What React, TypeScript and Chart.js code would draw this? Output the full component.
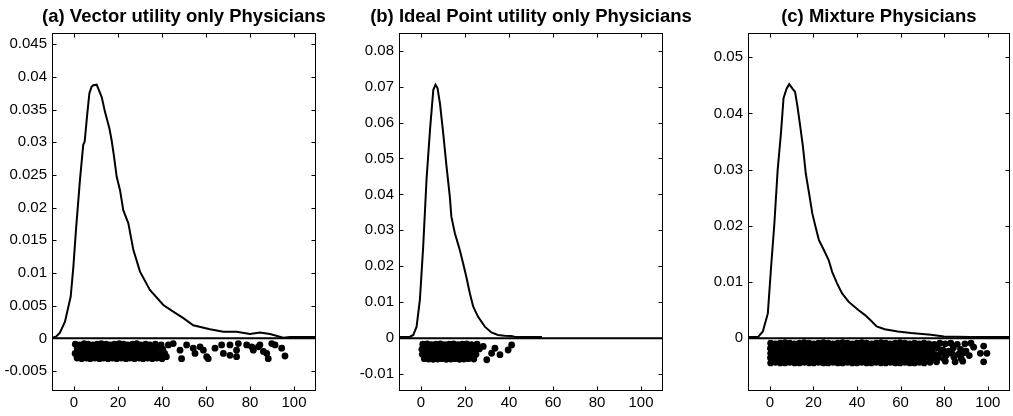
import React, { useEffect, useRef } from "react";
import { Chart, registerables } from "chart.js";

Chart.register(...registerables);

// ---------------- data ----------------
const xTicks = [0, 20, 40, 60, 80, 100];
const xMin = -10;
const xMax = 110;
const zeroLineX = [-10, 110];
const zeroLineY = [0, 0];

// (a) Vector utility only
const titleA = "(a) Vector utility only Physicians";
const yTicksA = [-0.005, 0, 0.005, 0.01, 0.015, 0.02, 0.025, 0.03, 0.035, 0.04, 0.045];
const yLabelsA = ["-0.005", "0", "0.005", "0.01", "0.015", "0.02", "0.025", "0.03", "0.035", "0.04", "0.045"];
const yRangeA = [-0.00805, 0.0467];
const curveAX = [-10, -8, -6.4, -4.1, -1.5, -0.3, 0.9, 2.7, 4.2, 4.85, 6.05, 7.0, 8.0, 8.8, 10.3, 12.6, 14.1, 16.1, 17.1, 18.2, 19.4, 20.9, 22.4, 24.7, 27.0, 30.0, 34.5, 40.6, 45.1, 49.7, 54.2, 61.8, 67.9, 73.9, 80.0, 84.5, 89.1, 95.1, 98.2, 104, 110];
const curveAY = [0.0001, 0.0003, 0.00086, 0.00254, 0.0064, 0.0109, 0.0166, 0.0242, 0.0296, 0.0301, 0.0344, 0.0375, 0.0385, 0.0387, 0.0388, 0.0369, 0.0346, 0.0321, 0.0303, 0.0278, 0.0247, 0.0227, 0.0196, 0.0176, 0.0135, 0.0102, 0.0074, 0.0051, 0.0041, 0.0031, 0.0020, 0.0014, 0.0010, 0.0010, 0.00066, 0.0009, 0.00066, 0.0001, 0.0002, 0.0002, 0.0002];
const rugA: [number, number][] = [
  [0.6, -0.0009], [2.5, -0.001], [4.6, -0.0008], [6.4, -0.0009], [8.5, -0.001], [10.5, -0.0009], [12.4, -0.0008], [14.6, -0.0009], [16.5, -0.001], [18.4, -0.0009], [20.6, -0.0008], [22.5, -0.0009], [24.4, -0.001], [26.6, -0.0009], [28.5, -0.0008], [30.4, -0.001], [32.6, -0.0009], [34.5, -0.001], [37.0, -0.0009], [39.6, -0.001],
  [1.5, -0.0016], [3.6, -0.0017], [5.4, -0.0015], [7.5, -0.0016], [9.6, -0.0017], [11.4, -0.0016], [13.5, -0.0015], [15.6, -0.0016], [17.4, -0.0017], [19.5, -0.0016], [21.6, -0.0015], [23.4, -0.0016], [25.5, -0.0017], [27.6, -0.0016], [29.4, -0.0015], [31.5, -0.0016], [33.6, -0.0017], [35.4, -0.0016], [37.8, -0.0015], [40.4, -0.0017],
  [0.5, -0.0023], [2.6, -0.0024], [4.5, -0.0022], [6.6, -0.0023], [8.4, -0.0024], [10.5, -0.0023], [12.6, -0.0022], [14.4, -0.0023], [16.5, -0.0024], [18.6, -0.0023], [20.4, -0.0022], [22.5, -0.0023], [24.6, -0.0024], [26.4, -0.0023], [28.5, -0.0022], [30.6, -0.0023], [32.4, -0.0024], [34.5, -0.0023], [36.6, -0.0022], [38.7, -0.0024], [41.2, -0.0023],
  [1.4, -0.003], [3.5, -0.0031], [5.6, -0.003], [7.4, -0.0031], [9.5, -0.003], [11.6, -0.0031], [13.4, -0.003], [15.5, -0.0031], [17.6, -0.003], [19.4, -0.0031], [21.5, -0.003], [23.6, -0.0031], [25.4, -0.003], [27.5, -0.0031], [29.6, -0.003], [31.4, -0.0031], [33.5, -0.003], [35.6, -0.0031], [37.6, -0.003], [40.0, -0.0031], [42.0, -0.0028],
  [42.9, -0.001], [45.1, -0.0008], [48.2, -0.0018], [48.9, -0.0031], [51.2, -0.001], [54.2, -0.0015], [55.0, -0.0023], [57.3, -0.0013], [58.8, -0.0018], [60.3, -0.0028], [61.0, -0.0031], [64.1, -0.0015], [67.1, -0.001], [67.9, -0.0023], [70.9, -0.001], [70.9, -0.0026], [73.9, -0.0018], [74.7, -0.0008], [73.9, -0.0028], [78.5, -0.001], [80.8, -0.0013], [81.5, -0.0018], [83.8, -0.0013], [84.5, -0.001], [86.1, -0.002], [87.6, -0.0023], [88.3, -0.0031], [89.9, -0.0008], [91.4, -0.001], [94.4, -0.0015], [95.9, -0.0027],
];

// (b) Ideal Point utility only
const titleB = "(b) Ideal Point utility only Physicians";
const yTicksB = [-0.01, 0, 0.01, 0.02, 0.03, 0.04, 0.05, 0.06, 0.07, 0.08];
const yLabelsB = ["-0.01", "0", "0.01", "0.02", "0.03", "0.04", "0.05", "0.06", "0.07", "0.08"];
const yRangeB = [-0.0147, 0.0849];
const curveBX = [-10, -5.0, -3.5, -2.0, -0.5, 1.0, 2.5, 4.1, 5.6, 6.6, 7.5, 8.6, 10.1, 11.6, 13.1, 13.8, 15.4, 17.6, 19.1, 20.6, 22.2, 23.7, 25.9, 29.0, 32.0, 35.0, 38.0, 41.0, 42.5, 44, 50, 55];
const curveBY = [0.0003, 0.0004, 0.0009, 0.0032, 0.0107, 0.0255, 0.044, 0.058, 0.0691, 0.0705, 0.0696, 0.0654, 0.057, 0.0478, 0.0394, 0.0338, 0.0292, 0.0246, 0.0209, 0.0171, 0.0125, 0.0088, 0.006, 0.0032, 0.0016, 0.0009, 0.0007, 0.0006, 0.0004, 0.0003, 0.0003, 0.0003];
const rugB: [number, number][] = [
  [0.8, -0.0017], [2.8, -0.0016], [4.8, -0.0018], [6.8, -0.0017], [8.8, -0.0016], [10.8, -0.0018], [12.8, -0.0017], [14.8, -0.0016], [16.8, -0.0018], [18.8, -0.0017], [20.8, -0.0016], [23.0, -0.0018], [25.5, -0.0017],
  [0.4, -0.0031], [1.8, -0.003], [3.8, -0.0032], [5.8, -0.0031], [7.8, -0.003], [9.8, -0.0032], [11.8, -0.0031], [13.8, -0.003], [15.8, -0.0032], [17.8, -0.0031], [19.8, -0.003], [21.8, -0.0032], [24.0, -0.0031], [26.5, -0.003],
  [0.6, -0.0045], [2.6, -0.0044], [4.6, -0.0046], [6.6, -0.0045], [8.6, -0.0044], [10.6, -0.0046], [12.6, -0.0045], [14.6, -0.0044], [16.6, -0.0046], [18.6, -0.0045], [20.6, -0.0044], [22.6, -0.0046], [25.0, -0.0045],
  [1.5, -0.0057], [3.5, -0.0058], [5.5, -0.0059], [7.5, -0.0058], [9.5, -0.0057], [11.5, -0.0059], [13.5, -0.0058], [15.5, -0.0057], [17.5, -0.0059], [19.5, -0.0058], [21.5, -0.0057], [24.0, -0.0058],
  [28.3, -0.0023], [29.9, -0.006], [32.1, -0.0042], [33.6, -0.0028], [35.9, -0.0046], [39.6, -0.0033], [41.2, -0.0019],
];

// (c) Mixture
const titleC = "(c) Mixture Physicians";
const yTicksC = [0, 0.01, 0.02, 0.03, 0.04, 0.05];
const yLabelsC = ["0", "0.01", "0.02", "0.03", "0.04", "0.05"];
const yRangeC = [-0.0094, 0.0543];
const curveCX = [-10, -5.4, -3.2, -0.9, 0.6, 2.1, 3.6, 5.1, 6.3, 7.7, 8.9, 10.4, 11.6, 12.7, 14.2, 15.2, 16.5, 18.0, 19.5, 21.0, 22.5, 24.8, 27.0, 28.6, 30.8, 33.1, 36.1, 40.6, 43.7, 46.7, 49.0, 52.7, 58.7, 64.8, 73.9, 79.9, 92.0, 95.0, 110];
const curveCY = [0.0002, 0.0002, 0.0012, 0.0044, 0.0127, 0.0204, 0.0299, 0.0364, 0.0427, 0.0444, 0.0452, 0.0444, 0.0438, 0.0412, 0.037, 0.0341, 0.0293, 0.0258, 0.0222, 0.0198, 0.0175, 0.0157, 0.0139, 0.0118, 0.0098, 0.008, 0.0065, 0.005, 0.0041, 0.003, 0.0021, 0.0016, 0.0012, 0.0009, 0.0006, 0.0003, 0.0002, 0.0002, 0.0002];
const rugC: [number, number][] = [
  [0.4, -0.0009], [2.6, -0.001], [4.8, -0.0009], [7.0, -0.0008], [9.2, -0.0009], [11.4, -0.001], [13.6, -0.0009], [15.8, -0.0008], [18.0, -0.0009], [20.2, -0.001], [22.4, -0.0009], [24.6, -0.0008], [26.8, -0.0009], [29.0, -0.001], [31.2, -0.0009], [33.4, -0.0008], [35.6, -0.0009], [37.8, -0.001], [40.0, -0.0009], [42.2, -0.0008], [44.4, -0.0009], [46.6, -0.001], [48.8, -0.0009], [51.0, -0.0008], [53.2, -0.0009], [55.4, -0.001], [57.6, -0.0009], [59.8, -0.0008], [62.0, -0.0009], [64.2, -0.001],
  [0.3, -0.0018], [1.5, -0.0017], [3.7, -0.0018], [5.9, -0.0019], [8.1, -0.0018], [10.3, -0.0017], [12.5, -0.0018], [14.7, -0.0019], [16.9, -0.0018], [19.1, -0.0017], [21.3, -0.0018], [23.5, -0.0019], [25.7, -0.0018], [27.9, -0.0017], [30.1, -0.0018], [32.3, -0.0019], [34.5, -0.0018], [36.7, -0.0017], [38.9, -0.0018], [41.1, -0.0019], [43.3, -0.0018], [45.5, -0.0017], [47.7, -0.0018], [49.9, -0.0019], [52.1, -0.0018], [54.3, -0.0017], [56.5, -0.0018], [58.7, -0.0019], [60.9, -0.0018], [63.1, -0.0017],
  [0.4, -0.0027], [2.6, -0.0026], [4.8, -0.0027], [7.0, -0.0028], [9.2, -0.0027], [11.4, -0.0026], [13.6, -0.0027], [15.8, -0.0028], [18.0, -0.0027], [20.2, -0.0026], [22.4, -0.0027], [24.6, -0.0028], [26.8, -0.0027], [29.0, -0.0026], [31.2, -0.0027], [33.4, -0.0028], [35.6, -0.0027], [37.8, -0.0026], [40.0, -0.0027], [42.2, -0.0028], [44.4, -0.0027], [46.6, -0.0026], [48.8, -0.0027], [51.0, -0.0028], [53.2, -0.0027], [55.4, -0.0026], [57.6, -0.0027], [59.8, -0.0028], [62.0, -0.0027], [64.2, -0.0026],
  [0.3, -0.0035], [1.5, -0.0036], [3.7, -0.0035], [5.9, -0.0034], [8.1, -0.0035], [10.3, -0.0036], [12.5, -0.0035], [14.7, -0.0034], [16.9, -0.0035], [19.1, -0.0036], [21.3, -0.0035], [23.5, -0.0034], [25.7, -0.0035], [27.9, -0.0036], [30.1, -0.0035], [32.3, -0.0034], [34.5, -0.0035], [36.7, -0.0036], [38.9, -0.0035], [41.1, -0.0034], [43.3, -0.0035], [45.5, -0.0036], [47.7, -0.0035], [49.9, -0.0034], [52.1, -0.0035], [54.3, -0.0036], [56.5, -0.0035], [58.7, -0.0034], [60.9, -0.0035], [63.1, -0.0036],
  [0.4, -0.0044], [2.6, -0.0043], [4.8, -0.0044], [7.0, -0.0044], [9.2, -0.0043], [11.4, -0.0044], [13.6, -0.0044], [15.8, -0.0043], [18.0, -0.0044], [20.2, -0.0044], [22.4, -0.0043], [24.6, -0.0044], [26.8, -0.0044], [29.0, -0.0043], [31.2, -0.0044], [33.4, -0.0044], [35.6, -0.0043], [37.8, -0.0044], [40.0, -0.0044], [42.2, -0.0043], [44.4, -0.0044], [46.6, -0.0044], [48.8, -0.0043], [51.0, -0.0044], [53.2, -0.0044], [55.4, -0.0043], [57.6, -0.0044], [59.8, -0.0044], [62.0, -0.0043], [64.2, -0.0044],
  [66.4, -0.0009], [68.6, -0.001], [70.8, -0.0009], [73.0, -0.001], [75.5, -0.0011], [78.0, -0.0009], [80.5, -0.001], [83.0, -0.0009], [86.0, -0.0011], [89.5, -0.001], [92.3, -0.0009],
  [65.3, -0.0018], [67.5, -0.0017], [69.7, -0.0019], [72.0, -0.0018], [74.3, -0.002], [76.8, -0.0017], [79.3, -0.0021], [82.0, -0.0023], [84.2, -0.0017], [87.5, -0.002], [90.0, -0.0023], [93.5, -0.0016],
  [66.4, -0.0027], [68.6, -0.0026], [70.8, -0.0028], [73.2, -0.0027], [75.8, -0.0029], [78.5, -0.0026], [81.0, -0.003], [83.5, -0.0027], [86.5, -0.0029], [89.0, -0.0026], [91.5, -0.0031],
  [65.3, -0.0035], [67.5, -0.0036], [69.7, -0.0035], [72.0, -0.0034], [74.6, -0.0036], [77.3, -0.0035], [80.0, -0.0037], [84.5, -0.0034], [87.8, -0.0036],
  [66.4, -0.0044], [68.6, -0.0043], [70.8, -0.0044], [73.5, -0.0043], [76.5, -0.0042], [80.5, -0.0041], [85.0, -0.0042], [88.5, -0.0041],
  [98.1, -0.0014], [96.6, -0.0027], [99.6, -0.0027], [98.1, -0.0042],
];

// ---------------- layout / style ----------------
const FONT = '"Liberation Sans", Arial, Helvetica, sans-serif';
const PAGE_W = 1013;
const PAGE_H = 416;

type PanelDef = {
  title: string;
  curveX: number[];
  curveY: number[];
  rug: [number, number][];
  yTicks: number[];
  yLabels: string[];
  yRange: number[];
  left: number;
  width: number;
  yAxisWidth: number;
  padRight: number;
};

const panels: PanelDef[] = [
  { title: titleA, curveX: curveAX, curveY: curveAY, rug: rugA, yTicks: yTicksA, yLabels: yLabelsA, yRange: yRangeA, left: 0, width: 338, yAxisWidth: 52, padRight: 22 },
  { title: titleB, curveX: curveBX, curveY: curveBY, rug: rugB, yTicks: yTicksB, yLabels: yLabelsB, yRange: yRangeB, left: 338, width: 338, yAxisWidth: 61, padRight: 13 },
  { title: titleC, curveX: curveCX, curveY: curveCY, rug: rugC, yTicks: yTicksC, yLabels: yLabelsC, yRange: yRangeC, left: 676, width: 337, yAxisWidth: 72, padRight: 1 },
];

const framePlugin = {
  id: "matlabFrame",
  afterDraw(chart: any) {
    const { ctx, chartArea, scales } = chart;
    const { left, right, top, bottom } = chartArea;
    const xs = scales.x;
    const ys = scales.y;
    const L = Math.round(left) + 0.5;
    const R = Math.round(right) - 0.5;
    const T = Math.round(top) + 0.5;
    const B = Math.round(bottom) - 0.5;
    ctx.save();
    ctx.strokeStyle = "#000";
    ctx.lineWidth = 1;
    ctx.strokeRect(L, T, R - L, B - T);
    const tl = 4;
    ctx.beginPath();
    xs.ticks.forEach((t: any) => {
      const p = Math.round(xs.getPixelForValue(t.value)) + 0.5;
      ctx.moveTo(p, B);
      ctx.lineTo(p, B - tl);
      ctx.moveTo(p, T);
      ctx.lineTo(p, T + tl);
    });
    ys.ticks.forEach((t: any) => {
      const p = Math.round(ys.getPixelForValue(t.value)) + 0.5;
      ctx.moveTo(L, p);
      ctx.lineTo(L + tl, p);
      ctx.moveTo(R, p);
      ctx.lineTo(R - tl, p);
    });
    ctx.stroke();
    const title = chart.options.plugins.panelTitle.text;
    ctx.fillStyle = "#000";
    ctx.font = `bold 18.5px ${FONT}`;
    ctx.textAlign = "center";
    ctx.textBaseline = "alphabetic";
    ctx.fillText(title, (left + right) / 2, 21.5);
    ctx.restore();
  },
};

function PanelChart({ def }: { def: PanelDef }) {
  const ref = useRef<HTMLCanvasElement | null>(null);
  useEffect(() => {
    if (!ref.current) return;
    const curve = def.curveX.map((x, i) => ({ x, y: def.curveY[i] }));
    const zero = zeroLineX.map((x, i) => ({ x, y: zeroLineY[i] }));
    const rug = def.rug.map(([x, y]) => ({ x, y }));
    const chart = new Chart(ref.current, {
      type: "scatter",
      data: {
        datasets: [
          { type: "line", data: curve, borderColor: "#000", borderWidth: 2, pointRadius: 0, tension: 0, fill: false } as any,
          { type: "line", data: zero, borderColor: "#000", borderWidth: 2, pointRadius: 0, tension: 0, fill: false } as any,
          { type: "scatter", data: rug, backgroundColor: "#000", borderColor: "#000", borderWidth: 0, pointRadius: 3.4, pointHoverRadius: 3.4 } as any,
        ],
      },
      options: {
        responsive: false,
        animation: false,
        events: [],
        layout: {
          padding: {
            top: 33,
            right: PAGE_W - (def.left + def.width) + def.padRight,
            left: def.left,
            bottom: 0,
          },
        },
        plugins: {
          legend: { display: false },
          tooltip: { enabled: false },
          title: { display: false },
          panelTitle: { text: def.title },
        } as any,
        scales: {
          x: {
            type: "linear",
            min: xMin,
            max: xMax,
            grid: { display: false, drawTicks: false },
            border: { display: false },
            ticks: {
              color: "#000",
              font: { family: FONT, size: 15 },
              padding: 3,
              maxRotation: 0,
              autoSkip: false,
              callback: (v: any) => String(v),
            },
            afterBuildTicks: (axis: any) => {
              axis.ticks = xTicks.map((v) => ({ value: v }));
            },
            afterFit: (axis: any) => {
              axis.height = 25;
            },
          },
          y: {
            type: "linear",
            min: def.yRange[0],
            max: def.yRange[1],
            grid: { display: false, drawTicks: false },
            border: { display: false },
            ticks: {
              color: "#000",
              font: { family: FONT, size: 15 },
              padding: 5,
              autoSkip: false,
              callback: (_v: any, i: number) => def.yLabels[i],
            },
            afterBuildTicks: (axis: any) => {
              axis.ticks = def.yTicks.map((v) => ({ value: v }));
            },
            afterFit: (axis: any) => {
              axis.width = def.yAxisWidth;
            },
          },
        },
      } as any,
      plugins: [framePlugin],
    });
    return () => chart.destroy();
  }, [def]);
  return (
    <canvas
      ref={ref}
      width={PAGE_W}
      height={PAGE_H}
      style={{ position: "absolute", left: 0, top: 0, width: PAGE_W, height: PAGE_H }}
    />
  );
}

export default function App() {
  return (
    <div style={{ position: "fixed", left: 0, top: 0, width: PAGE_W, height: PAGE_H, background: "#fff", overflow: "hidden" }}>
      {panels.map((p, i) => (
        <PanelChart key={i} def={p} />
      ))}
    </div>
  );
}
